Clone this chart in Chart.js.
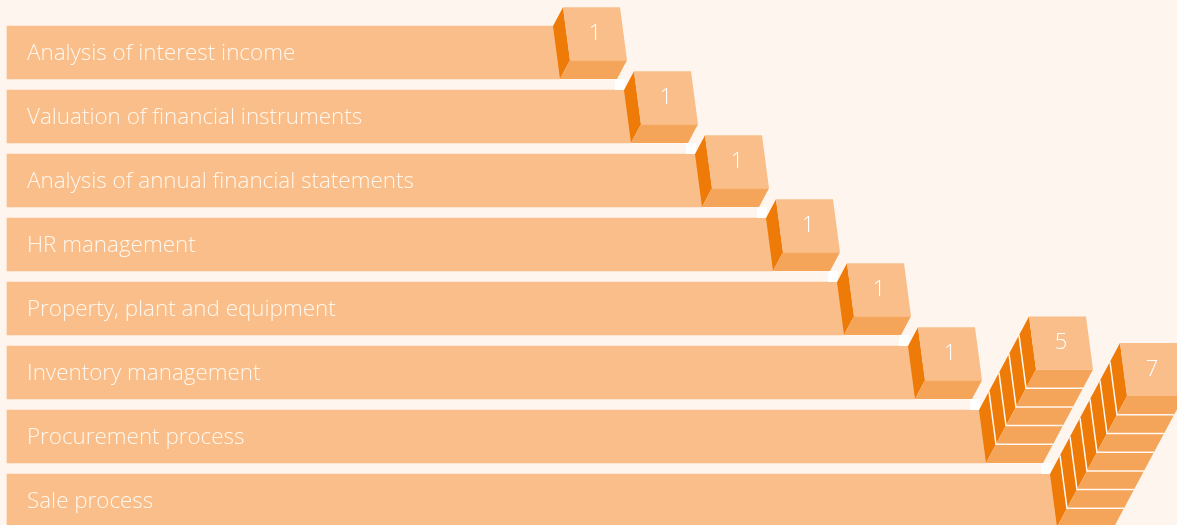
<!DOCTYPE html>
<html>
<head>
<meta charset="utf-8">
<script src="https://cdn.jsdelivr.net/npm/chart.js@4.4.1/dist/chart.umd.min.js"></script>
<style>
  html, body { margin: 0; padding: 0; background: #FEF5EF; }
  #wrap { width: 1177px; height: 525px; position: relative; }
</style>
</head>
<body>
<div id="wrap"><canvas id="chart"></canvas></div>
<script>
// categories, bar lengths (as drawn) and the counts shown on the cubes
const categories = [
    'Analysis of interest income',
    'Valuation of financial instruments',
    'Analysis of annual financial statements',
    'HR management',
    'Property, plant and equipment',
    'Inventory management',
    'Procurement process',
    'Sale process'
];
const barLengths = [553, 624, 695, 766, 837, 908, 979, 1050];
const counts = [1, 1, 1, 1, 1, 1, 5, 7];

const barColor = '#F9BE89';
const bottomColor = '#F4A55A';
const sideColor = '#EE7A08';

function poly(ctx, pts, fill) {
    ctx.beginPath();
    ctx.moveTo(pts[0][0], pts[0][1]);
    for (let i = 1; i < pts.length; i++) ctx.lineTo(pts[i][0], pts[i][1]);
    ctx.closePath();
    ctx.fillStyle = fill;
    ctx.fill();
}

// draws the labels and the stacked cubes at the end of each bar
const cubePlugin = {
    id: 'cubes',
    afterDatasetsDraw(chart) {
        const ctx = chart.ctx;
        const meta = chart.getDatasetMeta(0);
        const dx = -10, dy = 18.7, skew = 7, faceW = 57;
        ctx.save();
        meta.data.forEach((bar, i) => {
            const h = bar.height;
            const ex = bar.x;
            const bottom = bar.y + h / 2;
            const top = bar.y - h / 2;
            const n = counts[i];

            // label inside the bar
            ctx.fillStyle = '#FFF7EE';
            ctx.font = '300 22.4px "Open Sans"';
            ctx.textBaseline = 'middle';
            ctx.textAlign = 'left';
            ctx.fillText(categories[i], bar.base + 20, bar.y + 1);

            // small white notch in the gap above
            if (i > 0) {
                ctx.fillStyle = '#FFFFFF';
                ctx.fillRect(ex - 16, top - 11, 10, 11);
            }

            const blf = [ex - n * dx, bottom - n * dy];
            const brf = [blf[0] + faceW, blf[1]];
            const tlf = [blf[0] - skew, blf[1] - h];
            const trf = [tlf[0] + faceW, tlf[1]];
            const back = p => [p[0] + n * dx, p[1] + n * dy];

            poly(ctx, [tlf, back(tlf), back(blf), blf], sideColor);
            poly(ctx, [blf, brf, back(brf), back(blf)], bottomColor);
            poly(ctx, [tlf, trf, brf, blf], barColor);

            // separators between stacked units
            ctx.strokeStyle = '#FFF8F0';
            ctx.lineWidth = 1.5;
            for (let k = 1; k < n; k++) {
                const a = [tlf[0] + k * dx, tlf[1] + k * dy];
                const b = [blf[0] + k * dx, blf[1] + k * dy];
                const c = [brf[0] + k * dx, brf[1] + k * dy];
                ctx.beginPath();
                ctx.moveTo(a[0], a[1]);
                ctx.lineTo(b[0], b[1]);
                ctx.lineTo(c[0], c[1]);
                ctx.stroke();
            }

            // count on the front face
            ctx.fillStyle = '#FFFFFF';
            ctx.font = '300 22px "Open Sans"';
            ctx.textAlign = 'center';
            ctx.fillText(String(n), (tlf[0] + brf[0]) / 2, (tlf[1] + brf[1]) / 2);
        });
        ctx.restore();
    }
};

new Chart(document.getElementById('chart'), {
    type: 'bar',
    data: {
        labels: categories,
        datasets: [{
            data: barLengths,
            backgroundColor: barColor,
            borderWidth: 0,
            borderSkipped: false,
            barThickness: 53,
            clip: false
        }]
    },
    options: {
        indexAxis: 'y',
        responsive: true,
        maintainAspectRatio: false,
        animation: false,
        layout: { padding: { top: 52.5, bottom: 24.5, left: 0, right: 0 } },
        plugins: {
            legend: { display: false },
            tooltip: { enabled: false }
        },
        scales: {
            x: { display: false, min: -7, max: 1170 },
            y: { display: false, offset: false }
        }
    },
    plugins: [cubePlugin]
});
</script>
</body>
</html>
